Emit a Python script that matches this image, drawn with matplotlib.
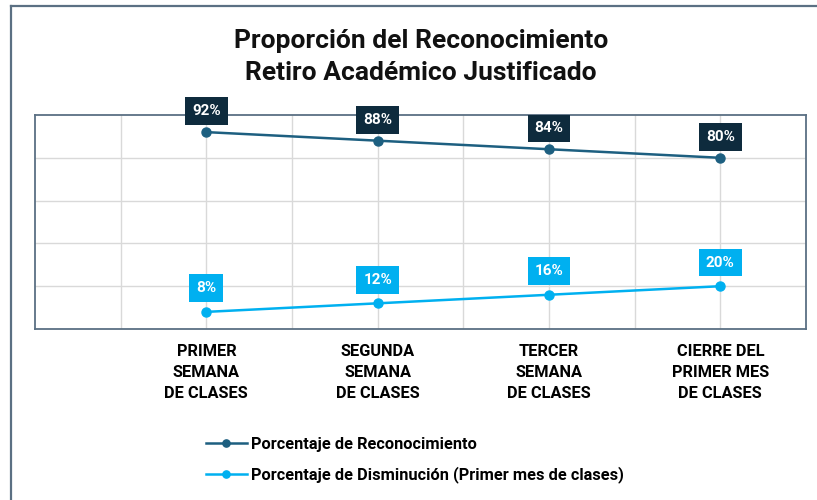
import matplotlib
matplotlib.use("Agg")
import matplotlib.pyplot as plt
from matplotlib.lines import Line2D

categories = ["PRIMER\nSEMANA\nDE CLASES", "SEGUNDA\nSEMANA\nDE CLASES",
              "TERCER\nSEMANA\nDE CLASES", "CIERRE DEL\nPRIMER MES\nDE CLASES"]
reconocimiento = [92, 88, 84, 80]
disminucion = [8, 12, 16, 20]
series_names = ["Porcentaje de Reconocimiento", "Porcentaje de Disminución (Primer mes de clases)"]
title = "Proporción del Reconocimiento\nRetiro Académico Justificado"

plt.rcParams['font.family'] = ['Liberation Sans Narrow', 'Roboto', 'DejaVu Sans']

c_dark = "#1d5f80"
c_dark_box = "#0e2b3d"
c_light = "#00b0f0"
c_frame = "#5b7083"

fig = plt.figure(figsize=(8.17, 5), dpi=100)
ax = fig.add_axes([35/817, 171/500, 771/817, 214/500])

x = list(range(len(categories)))
ax.plot(x, reconocimiento, color=c_dark, lw=1.8, marker='o', ms=6.5, label=series_names[0], zorder=3)
ax.plot(x, disminucion, color=c_light, lw=1.8, marker='o', ms=6.5, label=series_names[1], zorder=3)

for xi, v in zip(x, reconocimiento):
    ax.annotate(f"{v}%", (xi, v), xytext=(0, 15), textcoords='offset points', ha='center', va='center',
                color='white', fontsize=11, fontweight='bold', zorder=5,
                bbox=dict(boxstyle='square,pad=0.45', fc=c_dark_box, ec='none'))
for xi, v in zip(x, disminucion):
    ax.annotate(f"{v}%", (xi, v), xytext=(0, 17), textcoords='offset points', ha='center', va='center',
                color='white', fontsize=11, fontweight='bold', zorder=5,
                bbox=dict(boxstyle='square,pad=0.45', fc=c_light, ec='none'))

ax.set_xlim(-1, 3.5)
ax.set_ylim(0, 100)
ax.set_xticks(x)
ax.set_xticklabels(categories, fontsize=11.8, fontweight='bold', linespacing=1.5)
ax.set_xticks([-0.5, 0.5, 1.5, 2.5], minor=True)
ax.set_yticks([20, 40, 60, 80])
ax.set_yticklabels([])
ax.tick_params(axis='both', which='both', length=0)
ax.tick_params(axis='x', pad=11)
ax.grid(True, which='both', color='#d9d9d9', lw=1)
ax.set_axisbelow(True)
for s in ax.spines.values():
    s.set_color(c_frame)
    s.set_linewidth(1.3)

fig.text(421/817, 1 - 57/500, title, ha='center', va='center', fontsize=19, fontweight='bold',
         linespacing=1.45, color='#111111')

leg = fig.legend(loc='upper left', bbox_to_anchor=(191/817, 1 - 422/500), frameon=False,
                 prop={'size': 11.8, 'weight': 'semibold'}, handlelength=2.5, labelspacing=0.9,
                 handletextpad=0.25, markerscale=0.8)

fig.add_artist(Line2D([11/817, 1], [1 - 6/500, 1 - 6/500], transform=fig.transFigure, color=c_frame, lw=1.6))
fig.add_artist(Line2D([11/817, 11/817], [0, 1 - 6/500], transform=fig.transFigure, color=c_frame, lw=1.6))

fig.savefig("out.png", dpi=100)
